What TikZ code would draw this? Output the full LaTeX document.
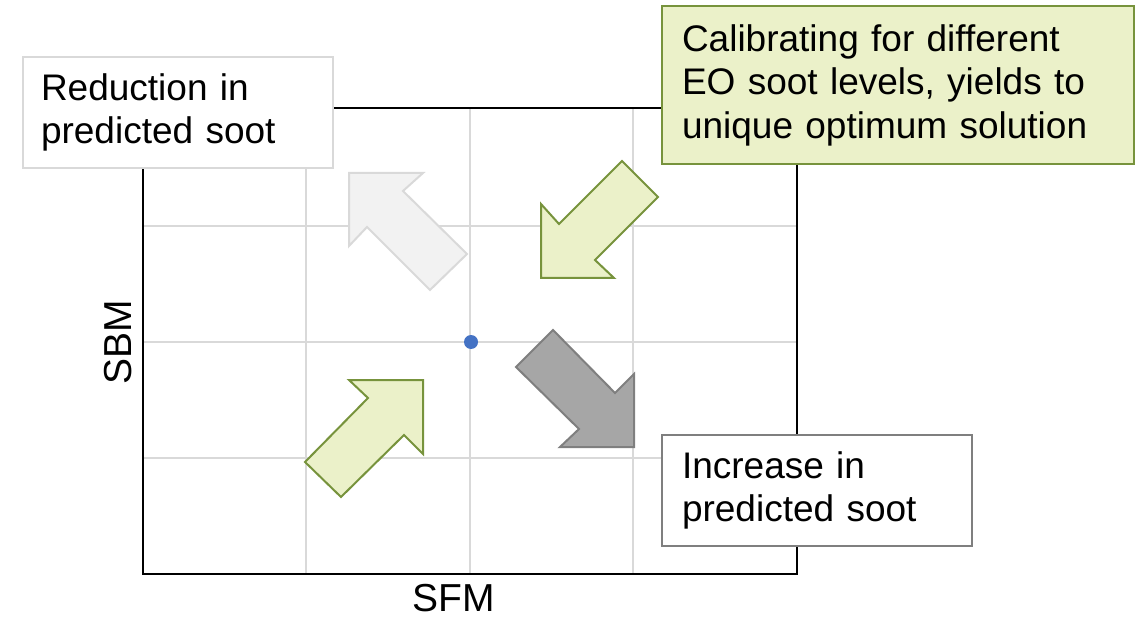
\documentclass[tikz,border=0pt]{standalone}
\usepackage{fontspec}
\setmainfont{Liberation Sans}
\usetikzlibrary{positioning}
\definecolor{SootGrid}{RGB}{217, 217, 217}
\definecolor{SootGreenFill}{RGB}{235, 241, 201}
\definecolor{SootGreenLine}{RGB}{119, 147, 60}
\definecolor{SootPaleFill}{RGB}{242, 242, 242}
\definecolor{SootDarkFill}{RGB}{166, 166, 166}
\definecolor{SootDarkLine}{RGB}{127, 127, 127}
\definecolor{SootDot}{RGB}{68, 114, 196}
\tikzset{
  notebox/.style={rectangle, line width=2pt, anchor=north west, align=left,
    font=\fontsize{37}{43.5}\selectfont, inner ysep=0pt},
  greenarrow/.style={draw=SootGreenLine, fill=SootGreenFill, line width=2pt, line join=miter},
  palearrow/.style={draw=SootGrid, fill=SootPaleFill, line width=2pt, line join=miter},
  darkarrow/.style={draw=SootDarkLine, fill=SootDarkFill, line width=2pt, line join=miter},
  axislabel/.style={font=\fontsize{39}{46}\selectfont, inner sep=0pt}
}
\begin{document}
\begin{tikzpicture}[x=1pt, y=-1pt]
    \useasboundingbox (0,0) rectangle (1140,620);
    % Grid and frame
    \foreach \gx in {306,470,633}
      \draw[SootGrid, line width=2pt] (\gx,108) -- (\gx,574);
    \foreach \gy in {226,342,458}
      \draw[SootGrid, line width=2pt] (143,\gy) -- (797,\gy);
    \draw[black, line width=2pt] (143,108) rectangle (797,574);

    % Block arrows
    \draw[palearrow] (349,173) -- (423,173) -- (403,191) -- (467,254) -- (430,290) -- (367,227) -- (349,246) -- cycle;
    \draw[greenarrow] (622,161) -- (658,197) -- (595,260) -- (614,278) -- (541,278) -- (541,204) -- (559,224) -- cycle;
    \draw[darkarrow] (553,330) -- (516,367) -- (579,429) -- (560,447) -- (634,447) -- (634,374) -- (615,393) -- cycle;
    \draw[greenarrow] (349,380) -- (423,380) -- (423,454) -- (404,435) -- (341,497) -- (305,462) -- (368,398) -- cycle;

    % Optimum point
    \fill[SootDot] (471,342) circle (7pt);

    % Text boxes
    \node[notebox, draw=SootGrid, fill=white, inner xsep=18pt, text width=274pt,
      minimum width=310pt, minimum height=111pt] (reduce) at (22,56)
      {Reduction in\\predicted soot};
    \node[notebox, draw=SootGreenLine, fill=SootGreenFill, inner xsep=20pt, text width=432pt,
      minimum width=472pt, minimum height=158pt] (calib) at (661,5)
      {Calibrating for different\\EO soot levels, yields to\\unique optimum solution};
    \node[notebox, draw=SootDarkLine, fill=white, inner xsep=20pt, text width=270pt,
      minimum width=310pt, minimum height=111pt] (increase) at (661,434)
      {Increase in\\predicted soot};

    % Axis labels
    \node[axislabel] (sfm) at (454,598) {SFM};
    \node[axislabel, rotate=90] (sbm) at (118,342) {SBM};
  \end{tikzpicture}
\end{document}
